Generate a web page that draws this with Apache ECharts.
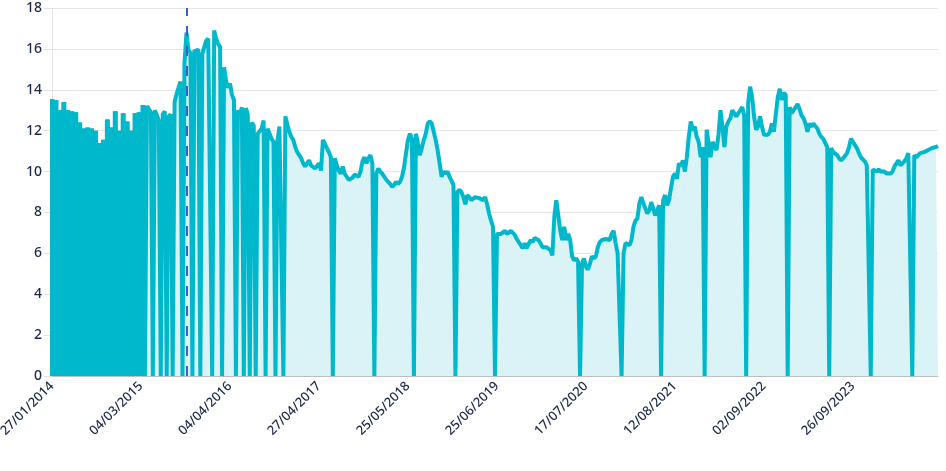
<!DOCTYPE html>
<html>
<head>
<meta charset="utf-8">
<script src="https://cdn.jsdelivr.net/npm/echarts@6/dist/echarts.min.js"></script>
<style>
html,body{margin:0;padding:0;background:#fff;}
#chart{width:946px;height:471px;}
</style>
</head>
<body>
<div id="chart"></div>
<script>
// Tick labels shown on the x axis (one every `pointsPerLabel` points)
const labelDates = ['27/01/2014','04/03/2015','04/04/2016','27/04/2017','25/05/2018','25/06/2019','17/07/2020','12/08/2021','02/09/2022','26/09/2023'];
const pointsPerLabel = 45;

// Date of the dashed reference line
const eventDate = '23/09/2015';

// Leading points where reported values alternate with zero days
const densePoints = 49;

// Series values (0 = days with no value reported)
const values = [
13.55,0,13.5,0,13.0,0,13.4,0,13.0,0,
12.95,0,12.9,0,12.4,0,12.1,0,12.15,0,
12.1,0,12.0,0,11.4,0,11.55,0,12.55,0,
12.15,0,12.95,0,12.0,0,12.85,0,12.45,0,
12.0,0,12.85,0,12.9,0,13.25,0,13.2,13.05,
12.9,0,13.0,12.75,12.5,0,12.8,12.95,0,12.7,
12.8,0,13.4,13.8,14.1,14.4,0,15.3,16.8,15.95,
15.8,0,15.95,15.85,16.0,0,15.75,16.1,16.4,16.5,
16.5,0,16.9,16.5,16.25,16.1,0,15.1,14.45,14.1,
14.3,13.75,13.5,0,13.0,12.75,13.15,0,13.1,12.8,
0,12.4,12.25,0,11.85,11.9,12.1,12.5,0,12.1,
11.85,11.6,11.45,0,11.5,12.2,12.2,0,12.7,12.3,
11.95,11.7,11.55,11.2,10.95,10.8,10.65,10.4,10.25,10.4,
10.55,10.3,10.25,10.15,10.15,10.4,10.05,11.55,11.55,11.15,
10.95,10.7,0,10.65,10.3,10.05,9.9,10.25,9.9,9.9,
9.6,9.6,9.7,9.85,9.9,9.75,10.0,10.5,10.7,10.4,
10.65,10.8,10.4,0,9.9,10.15,10.0,9.9,9.9,9.6,
9.5,9.4,9.25,9.35,9.5,9.4,9.5,9.75,10.2,10.9,
11.55,11.85,11.6,0,11.85,11.4,10.8,11.15,11.55,11.85,
12.35,12.45,12.35,11.95,11.55,11.05,10.4,9.75,10.0,9.9,
10.0,9.75,9.75,9.35,0,9.0,9.1,9.0,8.75,8.4,
8.85,8.75,8.6,8.6,8.75,8.7,8.7,8.7,8.6,8.75,
8.4,7.95,7.6,7.3,0,6.95,6.9,6.95,6.95,7.1,
6.95,6.95,7.1,7.05,6.9,6.7,6.65,6.4,6.25,6.5,
6.25,6.3,6.65,6.55,6.75,6.75,6.65,6.5,6.3,6.3,
6.3,6.25,6.15,5.9,7.8,8.6,8.6,7.1,6.65,7.3,
6.65,6.95,6.65,5.85,5.65,5.75,5.6,0,5.5,5.75,
5.35,5.2,5.5,5.85,5.75,5.85,6.3,6.55,6.65,6.65,
6.7,6.65,6.65,6.95,7.1,6.5,6.0,6.0,0,6.0,
6.5,6.55,6.4,6.65,7.3,7.6,7.7,8.45,8.75,8.45,
8.2,7.95,8.1,8.5,8.2,7.85,8.1,8.35,0,8.6,
8.85,8.35,8.6,9.2,9.75,9.9,9.65,10.4,10.25,10.55,
10.0,10.7,11.7,12.45,12.0,12.2,11.7,11.45,10.7,11.2,
0,12.05,11.4,10.7,11.45,11.4,11.05,11.8,13.0,12.2,
11.2,12.2,12.45,12.6,13.0,13.0,12.7,12.85,13.0,13.15,
12.75,0,13.35,14.15,13.65,12.7,12.05,12.2,12.7,12.2,
11.8,11.85,11.8,11.95,12.35,11.95,12.0,13.65,14.05,13.5,
13.85,13.75,0,13.15,12.85,12.9,13.15,13.3,13.05,12.75,
12.6,12.35,11.95,12.35,12.2,12.35,12.3,12.1,11.85,11.7,
11.6,11.55,11.2,0,11.15,10.95,10.95,10.8,10.65,10.55,
10.65,10.7,10.9,11.2,11.6,11.45,11.4,11.15,10.9,10.7,
10.65,10.5,10.3,10.25,0,10.1,10.1,10.0,10.1,10.0,
10.0,10.0,9.9,9.9,9.9,10.0,10.25,10.3,10.55,10.3,
10.4,10.5,10.65,10.9,10.9,0,10.8,10.7,10.7,10.9,
10.9,10.95,10.95,11.05,11.05,11.15,11.15,11.2,11.25
];

// Y axis range
const yMin = 0, yMax = 18, yStep = 2;

// ---- build category dates (labels fall exactly on labelDates) ----
const DAY = 86400000;
function parseD(s){const p=s.split('/');return Date.UTC(+p[2],+p[1]-1,+p[0]);}
function fmtD(t){const d=new Date(t);const dd=String(d.getUTCDate()).padStart(2,'0');const mm=String(d.getUTCMonth()+1).padStart(2,'0');return dd+'/'+mm+'/'+d.getUTCFullYear();}
const labelTimes = labelDates.map(parseD);
const categories = [];
for (let s = 0; s < labelTimes.length - 1; s++) {
  const span = (labelTimes[s+1] - labelTimes[s]) / DAY;
  for (let j = 0; j < pointsPerLabel; j++) {
    categories.push(fmtD(labelTimes[s] + Math.round(j * span / pointsPerLabel) * DAY));
  }
}
{
  const last = labelTimes.length - 1;
  const step = (labelTimes[last] - labelTimes[last-1]) / DAY / pointsPerLabel;
  let j = 0;
  while (categories.length < values.length) {
    categories.push(fmtD(labelTimes[last] + Math.round(j * step) * DAY));
    j++;
  }
}

const textColor = '#1d2a48';
const teal = '#00b8cc';
const denseData = values.map((v, i) => i < densePoints ? v : '-');

const chart = echarts.init(document.getElementById('chart'), null, {renderer: 'canvas'});
chart.setOption({
  animation: false,
  grid: {left: 52, right: 8, top: 8, bottom: 95, containLabel: false, outerBoundsMode: 'none'},
  xAxis: {
    type: 'category',
    data: categories,
    boundaryGap: false,
    axisLine: {show: true, lineStyle: {color: '#bdbdbd', width: 1}},
    axisTick: {show: false},
    splitLine: {show: false},
    axisLabel: {
      interval: pointsPerLabel - 1,
      rotate: 45,
      margin: 8,
      color: textColor,
      fontSize: 13,
      fontFamily: "'Noto Sans', sans-serif",
      fontWeight: 500
    }
  },
  yAxis: {
    type: 'value',
    min: yMin, max: yMax, interval: yStep,
    axisLine: {show: true, lineStyle: {color: '#e3e3e3'}},
    axisTick: {show: true, length: 8, lineStyle: {color: '#e3e3e3'}},
    splitLine: {show: true, lineStyle: {color: '#e6e6e6', width: 1}},
    axisLabel: {
      margin: 10,
      color: textColor,
      fontSize: 14,
      fontFamily: "'Noto Sans', sans-serif",
      fontWeight: 500
    }
  },
  series: [{
    type: 'bar',
    data: denseData,
    barWidth: 5,
    itemStyle: {color: teal},
    silent: true,
    z: 1
  }, {
    type: 'line',
    data: values,
    showSymbol: false,
    sampling: null,
    lineStyle: {color: teal, width: 4},
    itemStyle: {color: teal},
    areaStyle: {color: '#daf3f6', opacity: 1},
    z: 2,
    markLine: {
      silent: true,
      symbol: ['none', 'none'],
      label: {show: false},
      lineStyle: {color: '#3d5fc9', type: [10, 10], width: 2},
      data: [{xAxis: eventDate}]
    }
  }]
});
</script>
</body>
</html>
